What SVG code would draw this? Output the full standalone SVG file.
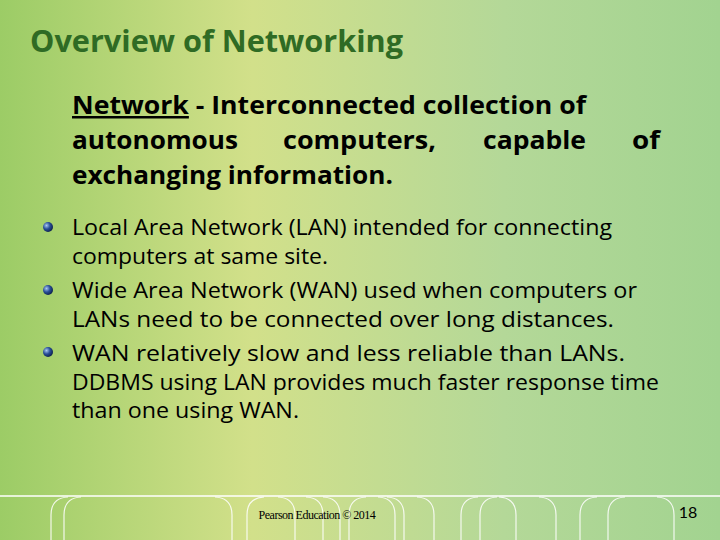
<svg xmlns="http://www.w3.org/2000/svg" width="720" height="540" viewBox="0 0 720 540">
<defs>
<linearGradient id="bg" x1="0" y1="0" x2="1" y2="0">
<stop offset="0" stop-color="#9ccc66"/><stop offset="0.35" stop-color="#d2e08a"/><stop offset="0.7" stop-color="#b4d898"/><stop offset="1" stop-color="#a2d390"/>
</linearGradient>
<radialGradient id="bl" cx="0.35" cy="0.35" r="0.7"><stop offset="0" stop-color="#a8c8f0"/><stop offset="0.5" stop-color="#2a4f9a"/><stop offset="1" stop-color="#0c1f4a"/></radialGradient>
</defs>
<style>
.b{font-family:"Open Sans",Lato,sans-serif;font-size:21px;fill:#000}
.h{font-family:"Open Sans",Lato,sans-serif;font-size:25px;font-weight:bold;fill:#000}
.a{fill:none;stroke:#fff;stroke-width:1.2;opacity:0.85}
</style>
<rect width="720" height="540" fill="url(#bg)"/>
<text x="30" y="52" font-family="'Open Sans',Lato,sans-serif" font-size="31" font-weight="bold" fill="#2f6b24" textLength="373" lengthAdjust="spacingAndGlyphs">Overview of Networking</text>
<text class="h" x="72" y="114" textLength="514" lengthAdjust="spacingAndGlyphs"><tspan text-decoration="underline">Network</tspan> - Interconnected collection of</text>
<text class="h" x="72" y="149" textLength="166" lengthAdjust="spacingAndGlyphs">autonomous</text>
<text class="h" x="283" y="149" textLength="153" lengthAdjust="spacingAndGlyphs">computers,</text>
<text class="h" x="483" y="149" textLength="103" lengthAdjust="spacingAndGlyphs">capable</text>
<text class="h" x="632" y="149" textLength="28" lengthAdjust="spacingAndGlyphs">of</text>
<text class="h" x="72" y="184" textLength="321" lengthAdjust="spacingAndGlyphs">exchanging information.</text>
<circle cx="48" cy="227" r="5" fill="url(#bl)"/>
<circle cx="48" cy="290" r="5" fill="url(#bl)"/>
<circle cx="48" cy="352" r="5" fill="url(#bl)"/>
<text class="b" x="72" y="235" textLength="540" lengthAdjust="spacingAndGlyphs">Local Area Network (LAN) intended for connecting</text>
<text class="b" x="72" y="264" textLength="256" lengthAdjust="spacingAndGlyphs">computers at same site.</text>
<text class="b" x="72" y="298" textLength="565" lengthAdjust="spacingAndGlyphs">Wide Area Network (WAN) used when computers or</text>
<text class="b" x="72" y="327" textLength="542" lengthAdjust="spacingAndGlyphs">LANs need to be connected over long distances.</text>
<text class="b" x="72" y="361" textLength="553" lengthAdjust="spacingAndGlyphs">WAN relatively slow and less reliable than LANs.</text>
<text class="b" x="72" y="390" textLength="587" lengthAdjust="spacingAndGlyphs">DDBMS using LAN provides much faster response time</text>
<text class="b" x="72" y="418" textLength="227" lengthAdjust="spacingAndGlyphs">than one using WAN.</text>
<line x1="0" y1="496" x2="720" y2="496" stroke="#fff" stroke-width="1.5"/>
<g class="a">
<path d="M51 540V515Q51 498 68 497"/>
<path d="M64 540V515Q64 498 81 497"/>
<path d="M232 540V515Q232 498 215 497"/>
<path d="M247 540V515Q247 498 264 497"/>
<path d="M295 540V515Q295 498 278 497"/>
<path d="M323 540V515Q323 498 306 497"/>
<path d="M340 540V515Q340 498 323 497"/>
<path d="M349 540V515Q349 498 366 497"/>
<path d="M395 540V515Q395 498 378 497"/>
<path d="M404 540V515Q404 498 387 497"/>
<path d="M434 540V515Q434 498 417 497"/>
<path d="M461 540V515Q461 498 478 497"/>
<path d="M480 540V515Q480 498 497 497"/>
<path d="M516 540V515Q516 498 499 497"/>
<path d="M556 540V515Q556 498 539 497"/>
<path d="M580 540V515Q580 498 597 497"/>
<path d="M608 540V515Q608 498 625 497"/>
<path d="M674 540V515Q674 498 657 497"/>
</g>
<text x="317" y="519" text-anchor="middle" font-family="'Liberation Serif',serif" font-size="12" fill="#000" letter-spacing="-0.5">Pearson Education © 2014</text>
<text x="688" y="518" text-anchor="middle" font-family="Lato,sans-serif" font-size="16" fill="#000">18</text>
</svg>
